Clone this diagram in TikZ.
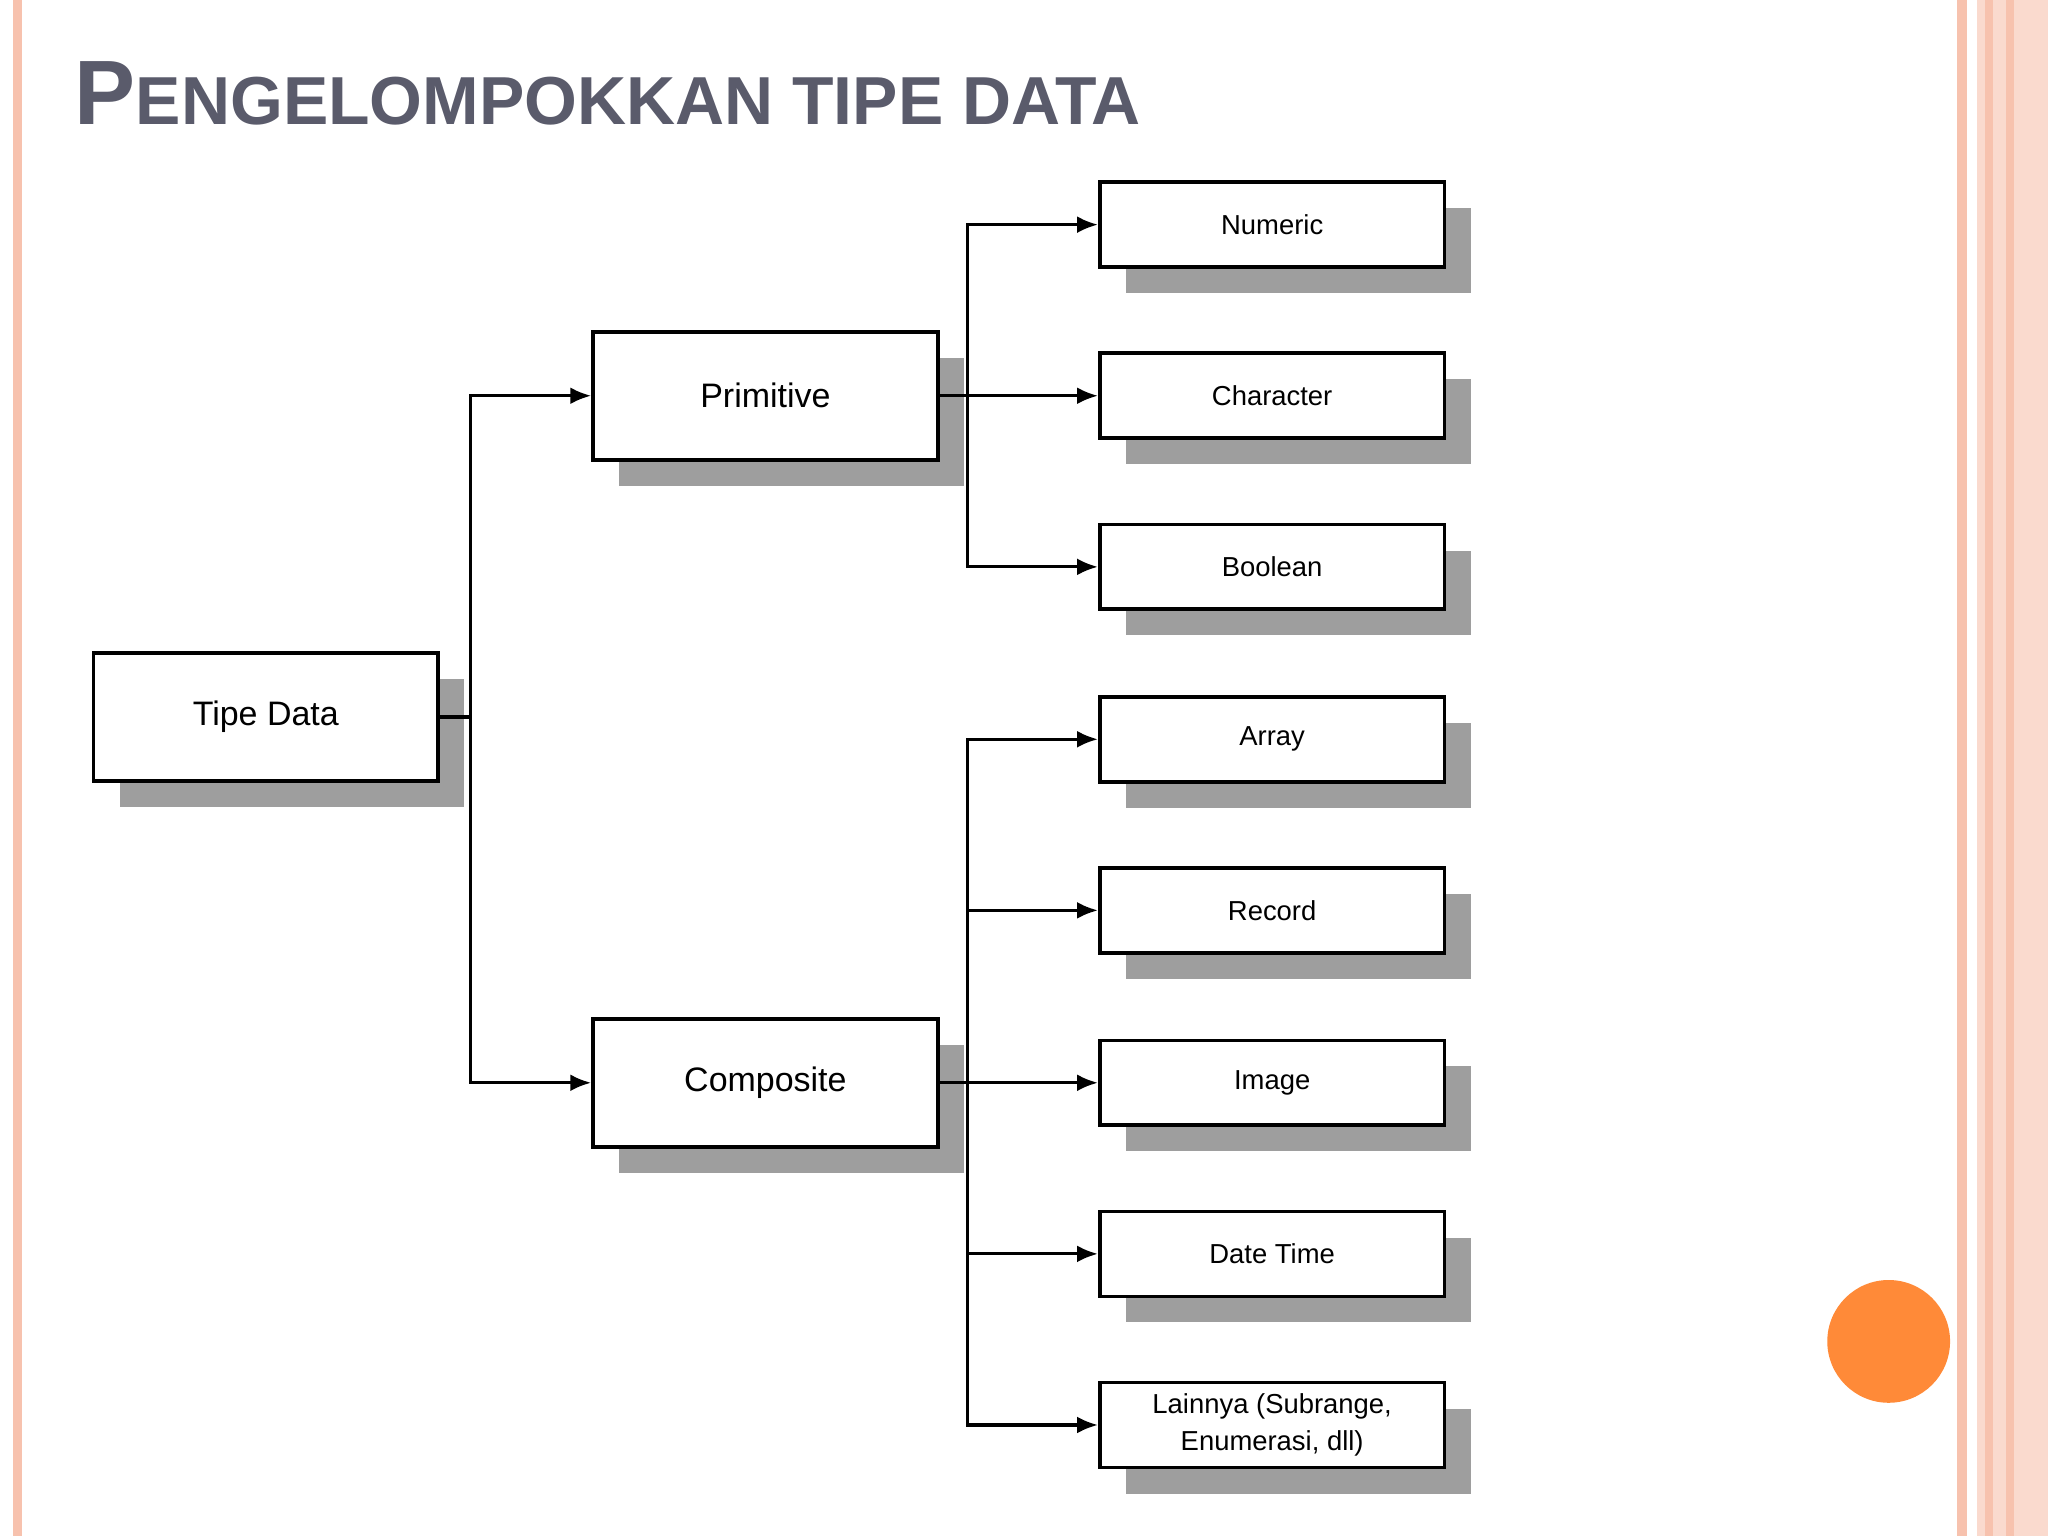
\documentclass[tikz,border=0pt]{standalone}
\usepackage{fontspec}
\setmainfont{Liberation Sans}
\usetikzlibrary{shadows,arrows.meta}
\definecolor{titlec}{HTML}{5A5B6B}
\definecolor{peach}{HTML}{F7C2AE}
\definecolor{orng}{HTML}{FF8A38}
\tikzset{
 box/.style={draw=black,line width=1.4pt,fill=white,minimum width=132pt,align=center,
   general shadow={fill=black!38,shadow xshift=10pt,shadow yshift=-10pt}},
 bigbox/.style={box,minimum height=49pt,font=\fontsize{13}{15}\selectfont},
 smallbox/.style={box,minimum height=32.5pt,font=\fontsize{10.5}{14}\selectfont},
 conn/.style={line width=1.2pt},
 arr/.style={conn,-{Latex[length=8pt,width=6.5pt]}}
}
\begin{document}
\begin{tikzpicture}[x=0.5pt,y=-0.5pt]
\useasboundingbox (0,0) rectangle (1568,1176);
\fill[white] (0,0) rectangle (1568,1176);
% borders
\fill[peach] (10,0) rectangle (17,1176);
\fill[peach] (1498,0) rectangle (1506,1176);
\fill[peach!60] (1514,0) rectangle (1568,1176);
\fill[peach] (1520,0) rectangle (1526,1176);
\fill[peach] (1536,0) rectangle (1542,1176);
% title
\node[anchor=base west,text=titlec,font=\bfseries,inner sep=0] (title) at (57,95)
 {\fontsize{35}{40}\selectfont P\fontsize{26}{30}\selectfont ENGELOMPOKKAN TIPE DATA};
% nodes
\node[bigbox] (td) at (203.5,549) {Tipe Data};
\node[bigbox] (prim) at (586,303) {Primitive};
\node[bigbox] (comp) at (586,829) {Composite};
\node[smallbox] (num) at (974,172) {Numeric};
\node[smallbox] (chr) at (974,303) {Character};
\node[smallbox] (bool) at (974,434) {Boolean};
\node[smallbox] (arr) at (974,566) {Array};
\node[smallbox] (rec) at (974,697) {Record};
\node[smallbox] (img) at (974,829) {Image};
\node[smallbox] (dt) at (974,960) {Date Time};
\node[smallbox] (oth) at (974,1091) {Lainnya (Subrange,\\Enumerasi, dll)};
% connectors
\coordinate (t1) at (360,549);
\draw[conn] (td.east) -- (t1);
\draw[arr] (t1) |- (prim.west);
\draw[arr] (t1) |- (comp.west);
\coordinate (t2) at (741,303);
\draw[conn] (prim.east) -- (t2);
\draw[arr] (t2) |- (num.west);
\draw[arr] (t2) -- (chr.west);
\draw[arr] (t2) |- (bool.west);
\coordinate (t3) at (741,829);
\draw[conn] (comp.east) -- (t3);
\draw[arr] (t3) |- (arr.west);
\draw[arr] (t3) |- (rec.west);
\draw[arr] (t3) -- (img.west);
\draw[arr] (t3) |- (dt.west);
\draw[arr] (t3) |- (oth.west);
% circle
\fill[orng] (1446,1027) circle (23.5pt);
\end{tikzpicture}
\end{document}
